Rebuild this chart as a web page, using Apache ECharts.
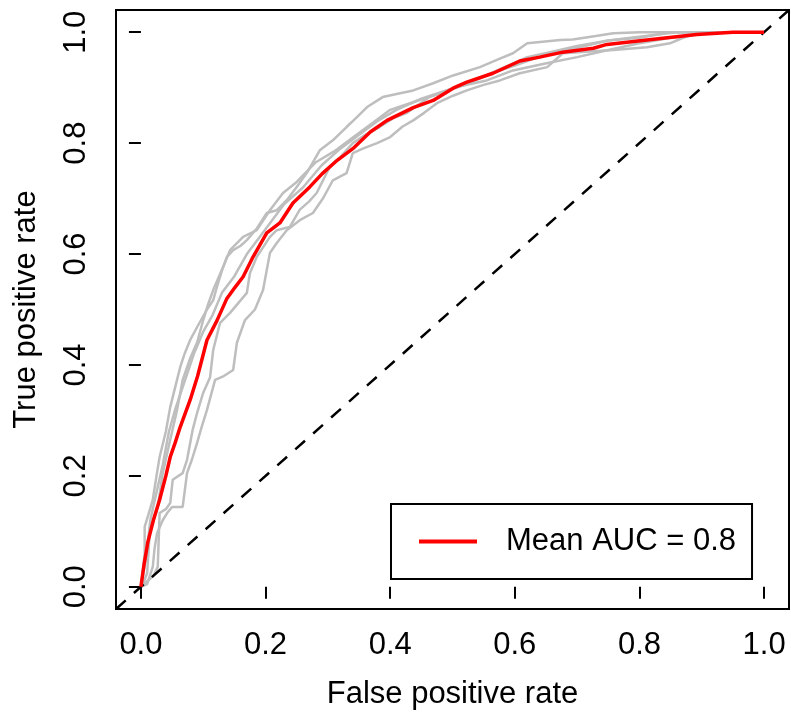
<!DOCTYPE html>
<html>
<head>
<meta charset="utf-8">
<script src="https://cdn.jsdelivr.net/npm/echarts@6.0.0/dist/echarts.min.js"></script>
<style>html,body{margin:0;padding:0;background:#fff;}#chart{width:791px;height:719px;}</style>
</head>
<body>
<div id="chart"></div>
<script>
// Tick values for both axes
var tickValues = [0, 0.2, 0.4, 0.6, 0.8, 1.0];

// Individual ROC curves (fpr, tpr)
var rocA = [[0,0],[0.006,0.06],[0.006,0.108],[0.012,0.13],[0.019,0.157],[0.025,0.20],[0.03,0.234],[0.04,0.28],[0.047,0.324],[0.055,0.36],[0.063,0.396],[0.07,0.42],[0.079,0.445],[0.09,0.468],[0.106,0.5],[0.116,0.517],[0.122,0.541],[0.13,0.57],[0.138,0.595],[0.148,0.607],[0.16,0.615],[0.17,0.625],[0.186,0.646],[0.202,0.674],[0.218,0.679],[0.234,0.697],[0.25,0.721],[0.266,0.746],[0.287,0.787],[0.308,0.805],[0.33,0.829],[0.345,0.845],[0.363,0.865],[0.388,0.883],[0.416,0.89],[0.437,0.895],[0.469,0.908],[0.501,0.922],[0.544,0.937],[0.575,0.952],[0.597,0.962],[0.62,0.98],[0.673,0.986],[0.693,0.987],[0.73,0.993],[0.758,0.998],[0.80,1],[1,1]];
var rocB = [[0,0],[0.005,0.01],[0.01,0.025],[0.014,0.097],[0.02,0.12],[0.027,0.144],[0.035,0.205],[0.047,0.265],[0.058,0.319],[0.067,0.373],[0.079,0.412],[0.09,0.44],[0.1,0.481],[0.108,0.51],[0.116,0.535],[0.132,0.577],[0.143,0.607],[0.164,0.631],[0.186,0.643],[0.207,0.679],[0.228,0.71],[0.25,0.73],[0.28,0.765],[0.31,0.785],[0.34,0.81],[0.37,0.835],[0.40,0.86],[0.44,0.875],[0.48,0.89],[0.52,0.905],[0.56,0.925],[0.60,0.94],[0.65,0.96],[0.70,0.972],[0.75,0.985],[0.80,0.99],[0.85,1],[1,1]];
var rocC = [[0,0],[0.008,0.05],[0.015,0.12],[0.025,0.17],[0.035,0.22],[0.045,0.28],[0.055,0.32],[0.07,0.37],[0.085,0.42],[0.10,0.46],[0.115,0.49],[0.13,0.53],[0.15,0.56],[0.17,0.60],[0.19,0.63],[0.21,0.66],[0.23,0.69],[0.26,0.72],[0.29,0.76],[0.32,0.79],[0.35,0.815],[0.38,0.84],[0.41,0.86],[0.45,0.88],[0.49,0.895],[0.53,0.91],[0.57,0.93],[0.62,0.955],[0.66,0.965],[0.70,0.975],[0.75,0.985],[0.80,0.992],[0.86,1],[1,1]];
var rocD = [[0,0],[0.01,0.01],[0.02,0.02],[0.027,0.036],[0.03,0.133],[0.04,0.14],[0.047,0.151],[0.051,0.193],[0.067,0.205],[0.074,0.229],[0.083,0.283],[0.09,0.313],[0.1,0.35],[0.111,0.378],[0.116,0.427],[0.127,0.476],[0.143,0.494],[0.17,0.53],[0.175,0.566],[0.186,0.595],[0.207,0.631],[0.218,0.643],[0.239,0.649],[0.255,0.68],[0.27,0.695],[0.282,0.71],[0.303,0.757],[0.32,0.775],[0.34,0.80],[0.36,0.815],[0.383,0.829],[0.405,0.845],[0.426,0.854],[0.463,0.883],[0.506,0.901],[0.555,0.913],[0.597,0.931],[0.651,0.944],[0.70,0.955],[0.75,0.968],[0.80,0.98],[0.85,0.99],[0.90,0.997],[0.95,1],[1,1]];
var rocE = [[0,0],[0.01,0.005],[0.019,0.036],[0.022,0.07],[0.026,0.097],[0.035,0.12],[0.042,0.133],[0.05,0.144],[0.067,0.144],[0.074,0.205],[0.082,0.23],[0.09,0.259],[0.098,0.29],[0.106,0.319],[0.119,0.373],[0.133,0.38],[0.148,0.391],[0.154,0.44],[0.167,0.481],[0.183,0.50],[0.196,0.535],[0.207,0.602],[0.218,0.62],[0.234,0.643],[0.255,0.661],[0.276,0.674],[0.292,0.70],[0.308,0.733],[0.33,0.746],[0.34,0.782],[0.356,0.79],[0.379,0.8],[0.4,0.811],[0.42,0.83],[0.437,0.841],[0.455,0.855],[0.475,0.872],[0.5,0.885],[0.523,0.895],[0.55,0.905],[0.576,0.913],[0.608,0.926],[0.652,0.937],[0.677,0.962],[0.72,0.965],[0.758,0.968],[0.812,0.973],[0.849,0.98],[0.87,0.99],[0.892,0.998],[0.92,1],[1,1]];

// Mean ROC curve
var rocMean = [[0,0],[0.005,0.04],[0.011,0.08],[0.02,0.12],[0.03,0.157],[0.04,0.20],[0.047,0.234],[0.055,0.26],[0.063,0.288],[0.079,0.337],[0.091,0.38],[0.106,0.445],[0.122,0.48],[0.138,0.52],[0.151,0.54],[0.164,0.559],[0.180,0.595],[0.202,0.638],[0.223,0.656],[0.244,0.692],[0.271,0.721],[0.291,0.745],[0.315,0.769],[0.340,0.79],[0.368,0.820],[0.395,0.841],[0.437,0.864],[0.469,0.877],[0.501,0.899],[0.523,0.910],[0.565,0.926],[0.608,0.948],[0.640,0.955],[0.677,0.964],[0.726,0.971],[0.748,0.978],[0.812,0.986],[0.892,0.996],[0.950,1.0],[1.0,1.0]];

// Chance line
var chanceLine = [[-0.04,-0.04],[1.04,1.04]];

var legendLabel = 'Mean AUC = 0.8';
var xTitle = 'False positive rate';
var yTitle = 'True positive rate';

var FONT = 'Liberation Sans, Arial, sans-serif';
var FS = 31;

var grayCurves = [rocA, rocB, rocC, rocD, rocE];
var series = grayCurves.map(function (d, i) {
  return {
    name: 'fold' + (i + 1), type: 'line', data: d, symbol: 'none', z: 2,
    lineStyle: { color: '#BEBEBE', width: 2.5 }, silent: true
  };
});
series.push({
  name: 'chance', type: 'line', data: chanceLine, symbol: 'none', z: 3,
  lineStyle: { color: '#000', width: 2.5, type: [13, 11] }, silent: true
});
series.push({
  name: legendLabel, type: 'line', data: rocMean, symbol: 'none', z: 4,
  lineStyle: { color: '#FF0000', width: 3.5 }, itemStyle: { color: '#FF0000' }
});

var chart = echarts.init(document.getElementById('chart'), null, { renderer: 'canvas' });
chart.setOption({
  animation: false,
  backgroundColor: '#fff',
  textStyle: { fontFamily: FONT },
  grid: {
    left: 116, right: 2, top: 10, bottom: 110,
    show: true, borderColor: '#000', borderWidth: 2, backgroundColor: 'transparent'
  },
  legend: {
    data: [legendLabel],
    left: 391, top: 504,
    padding: [22, 16, 22, 28],
    borderColor: '#000', borderWidth: 2, backgroundColor: '#fff',
    icon: 'rect', itemWidth: 58, itemHeight: 4,
    textStyle: { fontFamily: FONT, fontSize: FS, color: '#000', padding: [0, 0, 0, 24] }
  },
  xAxis: {
    type: 'value', min: -0.04, max: 1.04,
    name: xTitle, nameLocation: 'middle', nameGap: 70,
    nameTextStyle: { fontFamily: FONT, fontSize: FS, color: '#000' },
    axisLine: { show: false },
    axisTick: { show: true, inside: false, length: 12, customValues: tickValues, lineStyle: { color: '#000', width: 2 } },
    axisLabel: { show: true, customValues: tickValues, margin: 21, fontFamily: FONT, fontSize: FS, color: '#000',
      formatter: function (v) { return v.toFixed(1); } },
    splitLine: { show: false }
  },
  yAxis: {
    type: 'value', min: -0.04, max: 1.04,
    name: yTitle, nameLocation: 'middle', nameGap: 74,
    nameTextStyle: { fontFamily: FONT, fontSize: FS, color: '#000' },
    axisLine: { show: false },
    axisTick: { show: true, inside: false, length: 12, customValues: tickValues, lineStyle: { color: '#000', width: 2 } },
    axisLabel: { show: true, customValues: tickValues, margin: 24, rotate: 90, fontFamily: FONT, fontSize: FS, color: '#000',
      formatter: function (v) { return v.toFixed(1); } },
    splitLine: { show: false }
  },
  series: series
});
</script>
</body>
</html>
